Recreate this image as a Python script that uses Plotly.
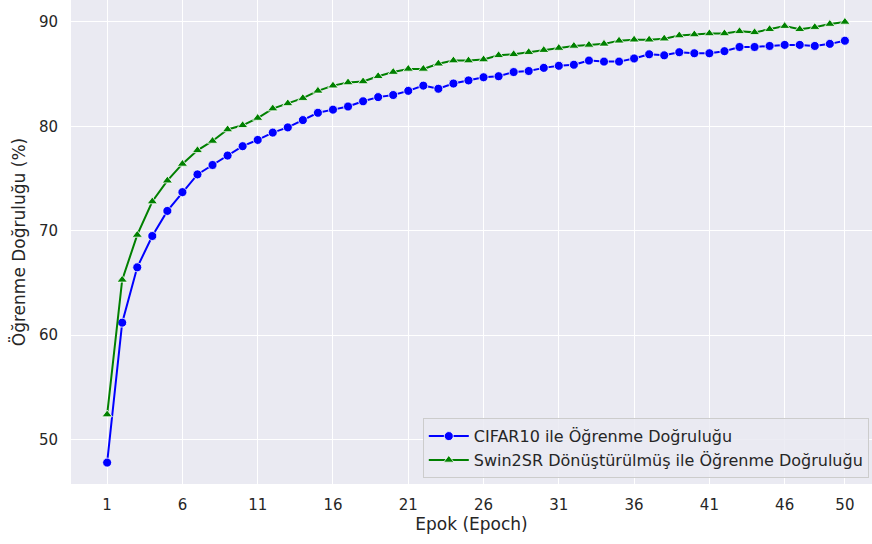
import plotly.graph_objects as go

epochs = list(range(1, 51))
cifar10 = [47.8, 61.2, 66.5, 69.5, 71.9, 73.7, 75.4, 76.3, 77.2, 78.1,
           78.7, 79.4, 79.9, 80.6, 81.3, 81.6, 81.9, 82.4, 82.8, 83.0,
           83.4, 83.9, 83.6, 84.1, 84.4, 84.7, 84.8, 85.2, 85.3, 85.6,
           85.8, 85.9, 86.3, 86.2, 86.2, 86.5, 86.9, 86.8, 87.1, 87.0,
           87.0, 87.2, 87.6, 87.6, 87.7, 87.8, 87.8, 87.7, 87.9, 88.2]
swin2sr = [52.4, 65.3, 69.6, 72.8, 74.8, 76.4, 77.7, 78.6, 79.7, 80.1,
           80.8, 81.7, 82.2, 82.7, 83.4, 83.9, 84.2, 84.3, 84.8, 85.2,
           85.5, 85.5, 86.0, 86.3, 86.3, 86.4, 86.8, 86.9, 87.1, 87.3,
           87.5, 87.7, 87.8, 87.9, 88.2, 88.3, 88.3, 88.4, 88.7, 88.8,
           88.9, 88.9, 89.1, 89.0, 89.3, 89.6, 89.3, 89.5, 89.8, 90.0]
x_ticks = [1, 6, 11, 16, 21, 26, 31, 36, 41, 46, 50]
y_ticks = [50, 60, 70, 80, 90]

font = "DejaVu Sans"
txt = "#262626"

fig = go.Figure()
fig.add_trace(go.Scatter(
    x=epochs, y=cifar10, mode="lines+markers",
    name="CIFAR10 ile Öğrenme Doğruluğu",
    line=dict(color="blue", width=2),
    marker=dict(symbol="circle", size=9, color="blue", line=dict(color="white", width=0.8)),
))
fig.add_trace(go.Scatter(
    x=epochs, y=swin2sr, mode="lines+markers",
    name="Swin2SR Dönüştürülmüş ile Öğrenme Doğruluğu",
    line=dict(color="green", width=2),
    marker=dict(symbol="triangle-up", size=9, color="green", line=dict(color="white", width=0.8)),
))

fig.update_layout(
    width=872, height=544,
    margin=dict(l=71, r=0, t=0, b=60),
    paper_bgcolor="white",
    plot_bgcolor="#eaeaf2",
    font=dict(family=font, size=15, color=txt),
    showlegend=True,
    legend=dict(
        x=0.996, y=0.012, xanchor="right", yanchor="bottom",
        bgcolor="rgba(234,234,242,0.85)", bordercolor="#cccccc", borderwidth=1,
        font=dict(family=font, size=16, color=txt),
        itemwidth=40, tracegroupgap=0,
    ),
)
fig.update_xaxes(
    range=[-1.4, 51.8], tickvals=x_ticks, ticktext=[str(t) for t in x_ticks],
    showgrid=True, gridcolor="white", gridwidth=1.2, zeroline=False,
    showline=False, ticks="", tickfont=dict(size=15, color=txt),
    ticklabelstandoff=10,
    title=dict(text="Epok (Epoch)", font=dict(size=17, color=txt), standoff=5),
)
fig.update_yaxes(
    range=[45.75, 92.1], tickvals=y_ticks, ticktext=[str(t) for t in y_ticks],
    showgrid=True, gridcolor="white", gridwidth=1.2, zeroline=False,
    showline=False, ticks="", tickfont=dict(size=15, color=txt),
    ticklabelstandoff=12,
    title=dict(text="Öğrenme Doğruluğu (%)", font=dict(size=17, color=txt), standoff=8),
)

fig.write_html("out.html", config={"displayModeBar": False},
               post_script="document.body.style.margin='0px';")
